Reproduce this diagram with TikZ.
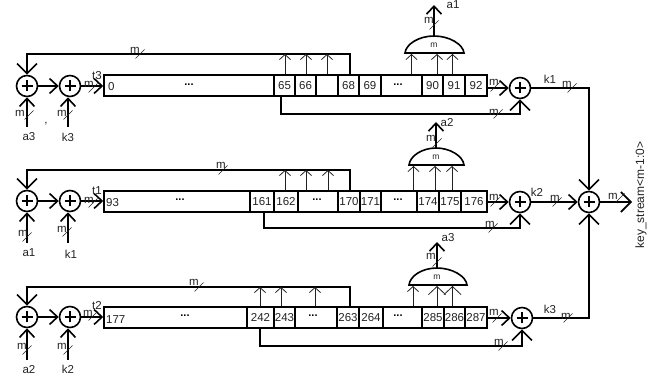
\documentclass[tikz,border=0pt]{standalone}
\usepackage{fontspec}
\setmainfont{Liberation Sans}
\usetikzlibrary{arrows.meta}
\newcounter{mc}
\definecolor{ink}{HTML}{222222}
\tikzset{
  lab/.style={inner sep=0pt,text=ink,font=\fontsize{11.5}{13}\selectfont},
  smalllab/.style={inner sep=0pt,text=ink,font=\fontsize{8.5}{9}\selectfont},
  dotlab/.style={inner sep=0pt,text=black,font=\fontsize{11}{11}\selectfont\bfseries},
  cellbox/.style={draw=black,line width=1.6pt,inner sep=0pt,text=ink,font=\fontsize{11.5}{13}\selectfont},
  xorbox/.style={draw=black,circle,line width=1.6pt,minimum size=21pt,inner sep=0pt,
    path picture={\draw[line width=1.5pt] ([xshift=-5.5pt]path picture bounding box.center)--([xshift=5.5pt]path picture bounding box.center)
      ([yshift=-5.5pt]path picture bounding box.center)--([yshift=5.5pt]path picture bounding box.center);}},
  wire/.style={draw=black,line width=1.6pt},
  bigin/.style={wire,-{Straight Barb[length=10pt,width=20pt]}},
  medin/.style={wire,-{Straight Barb[length=8pt,width=15pt]}},
  tap/.style={draw=ink,line width=0.8pt,-{Straight Barb[length=5pt,width=11pt]}},
  tapwide/.style={draw=ink,line width=0.8pt,-{Straight Barb[length=8pt,width=17pt]}},
  ticker/.style={draw=ink,line width=0.7pt},
  andgate/.style={draw=black,line width=1.6pt,fill=white},
}
\newcommand\regcell[6]{\node[cellbox,minimum width={(#3-#2)*1pt},minimum height={(#5-#4)*1pt}] (#1) at ({(#2+#3)/2},{(#4+#5)/2}) {#6};}
\newcommand\mtick[4]{\stepcounter{mc}\draw[ticker] ({#1-4.5},{#2+4.5})--({#1+4.5},{#2-4.5});\node[lab] (m\arabic{mc}) at (#3,#4) {m};}
\begin{document}
\begin{tikzpicture}[x=1pt,y=-1pt]
\useasboundingbox (0,0) rectangle (657,379);
% ---------- row 1 ----------
\regcell{c0}{104}{274}{75}{96}{}
\node[lab,anchor=west] (t0) at (108,87) {0};
\node[dotlab] (d1a) at (189,85) {...};
\regcell{c65}{274}{295}{75}{96}{65}
\regcell{c66}{295}{316}{75}{96}{66}
\regcell{c67}{316}{338}{75}{96}{}
\regcell{c68}{338}{359}{75}{96}{68}
\regcell{c69}{359}{381}{75}{96}{69}
\regcell{c6x}{381}{422}{75}{96}{}
\node[dotlab] (d1b) at (398,85) {...};
\regcell{c90}{422}{443}{75}{96}{90}
\regcell{c91}{443}{465}{75}{96}{91}
\regcell{c92}{465}{487}{75}{96}{92}
\node[xorbox] (xa1) at (27,86) {};
\node[xorbox] (xb1) at (70,86) {};
\node[xorbox] (xc1) at (520,88) {};
% ---------- row 2 ----------
\regcell{c93}{104}{250}{191}{212}{}
\node[lab,anchor=west] (t93) at (106,203) {93};
\node[dotlab] (d2a) at (180,200) {...};
\regcell{c161}{250}{274}{191}{212}{161}
\regcell{c162}{274}{298}{191}{212}{162}
\regcell{c16x}{298}{338}{191}{212}{}
\node[dotlab] (d2b) at (317,200) {...};
\regcell{c170}{338}{360}{191}{212}{170}
\regcell{c171}{360}{381}{191}{212}{171}
\regcell{c17x}{381}{417}{191}{212}{}
\node[dotlab] (d2c) at (398,200) {...};
\regcell{c174}{417}{439}{191}{212}{174}
\regcell{c175}{439}{461}{191}{212}{175}
\regcell{c176}{461}{487}{191}{212}{176}
\node[xorbox] (xa2) at (27,201) {};
\node[xorbox] (xb2) at (70,201) {};
\node[xorbox] (xc2) at (520,202) {};
% ---------- row 3 ----------
\regcell{c177}{104}{247}{307}{328}{}
\node[lab,anchor=west] (t177) at (106,320) {177};
\node[dotlab] (d3a) at (185,316) {...};
\regcell{c242}{247}{274}{307}{328}{242}
\regcell{c243}{274}{295}{307}{328}{243}
\regcell{c24x}{295}{337}{307}{328}{}
\node[dotlab] (d3b) at (313,316) {...};
\regcell{c263}{337}{359}{307}{328}{263}
\regcell{c264}{359}{383}{307}{328}{264}
\regcell{c26x}{383}{422}{307}{328}{}
\node[dotlab] (d3c) at (398,316) {...};
\regcell{c285}{422}{444}{307}{328}{285}
\regcell{c286}{444}{465}{307}{328}{286}
\regcell{c287}{465}{487}{307}{328}{287}
\node[xorbox] (xa3) at (27,317) {};
\node[xorbox] (xb3) at (70,317) {};
\node[xorbox] (xc3) at (522,318) {};
% merge
\node[xorbox] (merge) at (589,202) {};
% coordinates
\coordinate (fb1) at (350,54);
\coordinate (fb2) at (350,170);
\coordinate (fb3) at (350,287);
\coordinate (lo1) at (281,114);
\coordinate (lo2) at (264,228);
\coordinate (lo3) at (260,346);
\coordinate (ia1) at (27,127);
\coordinate (ib1) at (68,127);
\coordinate (ia2) at (27,243);
\coordinate (ib2) at (68,243);
\coordinate (ia3) at (27,360);
\coordinate (ib3) at (68,360);
\coordinate (oa1) at (434,5);
\coordinate (oa2) at (436,122);
\coordinate (oa3) at (437,242);
\coordinate (gt1) at (434,36);
\coordinate (gt2) at (436,148);
\coordinate (gt3) at (437,268);
\coordinate (ks) at (632,202);
% feedback
\draw[bigin] (fb1 |- c68.north) -- (fb1) -- (xa1 |- fb1) -- (xa1.north);
\draw[bigin] (fb2 |- c170.north) -- (fb2) -- (xa2 |- fb2) -- (xa2.north);
\draw[bigin] (fb3 |- c263.north) -- (fb3) -- (xa3 |- fb3) -- (xa3.north);
% lower taps
\draw[bigin] (lo1 |- c65.south) -- (lo1) -| (xc1.south);
\draw[bigin] (lo2 |- c161.south) -- (lo2) -| (xc2.south);
\draw[bigin] (lo3 |- c242.south) -- (lo3) -| (xc3.south);
% xor chains
\foreach \r/\first in {1/c0,2/c93,3/c177}{
  \draw[medin] (xa\r) -- (xb\r);
  \draw[medin] (xb\r.east) -- (xb\r.east -| \first.west);
  \draw[medin] (ia\r) -- (ia\r |- xa\r.south);
  \draw[medin] (ib\r) -- (ib\r |- xb\r.south);
}
\draw[medin] (c92.east |- xc1) -- (xc1.west);
\draw[medin] (c176.east |- xc2) -- (xc2.west);
\draw[medin] (c287.east |- xc3) -- (xc3.west);
% to merge
\draw[bigin] (xc1.east) -| (merge.north);
\draw[medin] (xc2.east) -- (merge.west);
\draw[bigin] (xc3.east) -| (merge.south);
\draw[bigin] (merge.east) -- (ks);
% upper taps
\foreach \x/\c in {285/c65,306/c66,327/c67}{\coordinate (p) at (\x,54);\draw[tap] (p |- \c.north) -- (p);}
\foreach \x/\c in {285/c162,306/c16x,328/c16x}{\coordinate (p) at (\x,170);\draw[tap] (p |- c162.north) -- (p);}
\foreach \x in {260,281,315}{\coordinate (p) at (\x,287);\draw[tap] (p |- c242.north) -- (p);}
% AND gates
\draw[andgate] (405,53) .. controls (406,44) and (419,36) .. (gt1) .. controls (449,36) and (463,44) .. (464,53) -- cycle;
\draw[andgate] (409,165) .. controls (410,156) and (422,148) .. (gt2) .. controls (450,148) and (463,156) .. (464,165) -- cycle;
\draw[andgate] (409,285) .. controls (410,276) and (422,268) .. (gt3) .. controls (452,268) and (466,276) .. (467,285) -- cycle;
\node[smalllab] (g1) at (434,45) {m};
\node[smalllab] (g2) at (436,157) {m};
\node[smalllab] (g3) at (437,277) {m};
\foreach \x in {411.5,437,452.5}{\coordinate (p) at (\x,54);\draw[tap] (p |- c90.north) -- (p);}
\foreach \x in {413.5,435,452}{\coordinate (p) at (\x,166);\draw[tap] (p |- c174.north) -- (p);}
\coordinate (p) at (413,286);\draw[tap] (p |- c285.north) -- (p);
\coordinate (p) at (437,286);\draw[tapwide] (p |- c285.north) -- (p);
\coordinate (p) at (452.5,286);\draw[tapwide] (p |- c285.north) -- (p);
% gate outputs
\draw[medin] (gt1) -- (oa1);
\draw[medin] (gt2) -- (oa2);
\draw[medin] (gt3) -- (oa3);
% ticks
\mtick{140}{54}{135}{50}
\mtick{29}{115}{20}{113}
\mtick{68}{115}{62}{113}
\mtick{93}{88}{89}{84}
\mtick{495}{87}{494}{82}
\mtick{572}{88}{567}{84}
\mtick{498}{114}{494}{112}
\mtick{434}{25}{429}{20}
\mtick{223}{170}{221}{165}
\mtick{27}{237}{23}{233}
\mtick{67}{232}{62}{229}
\mtick{93}{203}{89}{200}
\mtick{495}{202}{494}{197}
\mtick{493}{228}{490}{224}
\mtick{557}{202}{555}{198}
\mtick{620}{198}{613}{196}
\mtick{437}{143}{431}{138}
\mtick{199}{287}{194}{282}
\mtick{27}{350}{22}{346}
\mtick{68}{350}{62}{346}
\mtick{93}{316}{88}{313}
\mtick{497}{318}{494}{312}
\mtick{503}{346}{499}{342}
\mtick{568}{318}{566}{316}
\mtick{437}{262}{431}{256}
% labels
\node[lab] (la1) at (453,5) {a1};
\node[lab] (la2) at (447,123) {a2};
\node[lab] (la3) at (448,238) {a3};
\node[lab] (lt3) at (97,76) {t3};
\node[lab] (lt1) at (97,191) {t1};
\node[lab] (lt2) at (97,306) {t2};
\node[lab] (lk1) at (550,79) {k1};
\node[lab] (lk2) at (537,192) {k2};
\node[lab] (lk3) at (550,309) {k3};
\node[lab] (bl1) at (29,137) {a3};
\node[lab] (bl2) at (68,137) {k3};
\node[lab] (bl3) at (29,253) {a1};
\node[lab] (bl4) at (71,254) {k1};
\node[lab] (bl5) at (29,370) {a2};
\node[lab] (bl6) at (68,369) {k2};
\node[lab] (cm) at (46,124) {,};
\node[lab,rotate=90,font=\fontsize{12}{13}\selectfont] (kst) at (641,195) {key\_stream<m-1:0>};
\end{tikzpicture}
\end{document}
